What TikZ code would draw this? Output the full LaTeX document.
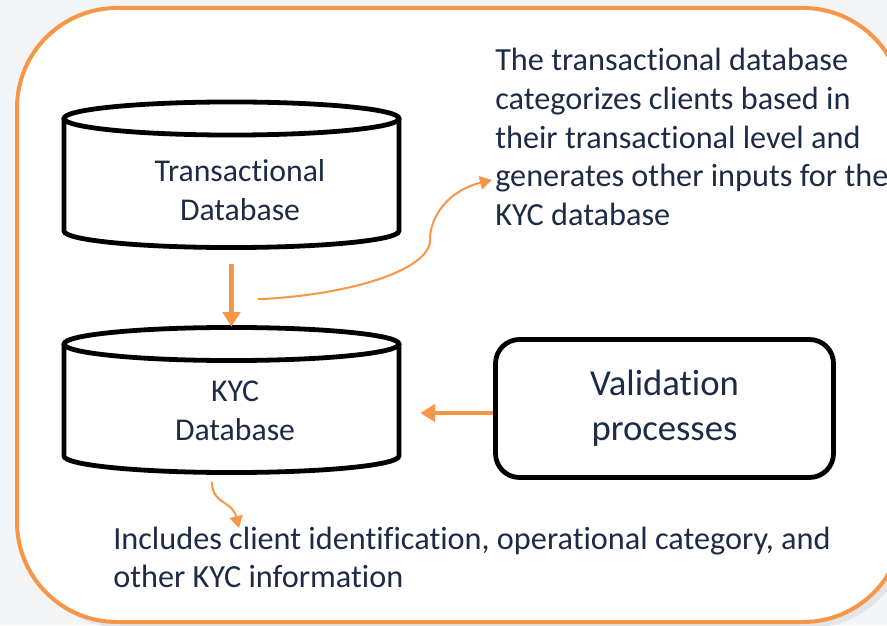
\documentclass[tikz,border=0pt]{standalone}
\usepackage{fontspec}
\setmainfont{Carlito}[RawFeature={-liga}]
\usetikzlibrary{arrows.meta}
\definecolor{kycorange}{HTML}{F79646}
\definecolor{navy}{HTML}{1E2B47}
\definecolor{backgray}{HTML}{F3F4F6}
\definecolor{shadowgray}{HTML}{E3E5E8}

\begin{document}
\begin{tikzpicture}[x=0.75pt, y=0.75pt]
    \tikzstyle dbline=[line width=3.6pt,black,fill=white]
    \tikzstyle dbspace=[minimum width=251pt, inner sep=0pt]
    \tikzstyle dbtext=[text=navy, font=\fontsize{23.8}{29}\selectfont, align=center]
    \tikzstyle notetext=[text=navy, font=\fontsize{24.2}{29}\selectfont, align=left, inner sep=0pt]
    \tikzstyle flow=[line width=3.5pt, kycorange, -{Triangle[width=13pt,length=11pt]}]
    \tikzstyle note=[line width=1.5pt, kycorange, -{Triangle[width=10pt,length=9pt]}]
    % background and frame
    \fill[backgray] (0,0) rectangle (887,625);
    \useasboundingbox (0,0) rectangle (887,625);
    \fill[shadowgray, rounded corners=75pt] (23,-3) rectangle (909,611);
    \draw[line width=3pt, kycorange, fill=white, rounded corners=75pt]
    (17,3) rectangle (903,617);
    % transactional database
    \draw[dbline] (64,506.5) -- (64,394) arc[start angle=180, end angle=360,
    x radius=125.6pt, y radius=12.4pt] -- (399,506.5);
    \draw[dbline] (231.5,506.5) ellipse[x radius=125.6pt, y radius=12.4pt];
    \node[dbspace, minimum height=111pt] (trans) at (231.5,449) {};
    \node[dbtext] (transtext) at (240,435) {Transactional\\Database};
    % KYC database
    \draw[dbline] (64,281) -- (64,169) arc[start angle=180, end angle=360,
    x radius=125.6pt, y radius=12.4pt] -- (399,281);
    \draw[dbline] (231.5,281) ellipse[x radius=125.6pt, y radius=12.4pt];
    \node[dbspace, minimum height=109.5pt] (kyc) at (231.5,225) {};
    \node[dbtext] (kyctext) at (235,214) {KYC\\Database};
    % validation
    \node[draw, line width=3.6pt, rounded corners=18pt, minimum width=253.5pt,
    minimum height=103.5pt, text=navy, align=center,
    font=\fontsize{27.5}{34}\selectfont] (val) at (664.5,216.5)
    {Validation\\processes};
    % notes
    \node[notetext, anchor=west] (desc) at (495,488)
    {The transactional database\\categorizes clients based in\\their
    transactional level and\\generates other inputs for the\\KYC database};
    \node[notetext, anchor=west] (incl) at (113,67.5)
    {Includes client identification, operational category, and\\other KYC
    information};
    \coordinate (descpoint) at (492,445);
    \coordinate (inclpoint) at (239,97);
    % arrows
    \draw[flow] ([yshift=-10.5pt]trans.south) -- coordinate[pos=0.56] (split)
    (kyc.north);
    \draw[flow, shorten >=16pt] ([yshift=-3.4pt]val.west) --
    ([yshift=-3.4pt]val.west -| kyc.east);
    \draw[note] ([xshift=20pt]split) .. controls (350,330) and (430,355) ..
    (430,385) .. controls (430,410) and (450,435) .. (descpoint);
    \draw[note] ([xshift=-14.6pt,yshift=-6.4pt]kyc.south) .. controls
    (212,120) and (232,125) .. (inclpoint);
\end{tikzpicture}
\end{document}
